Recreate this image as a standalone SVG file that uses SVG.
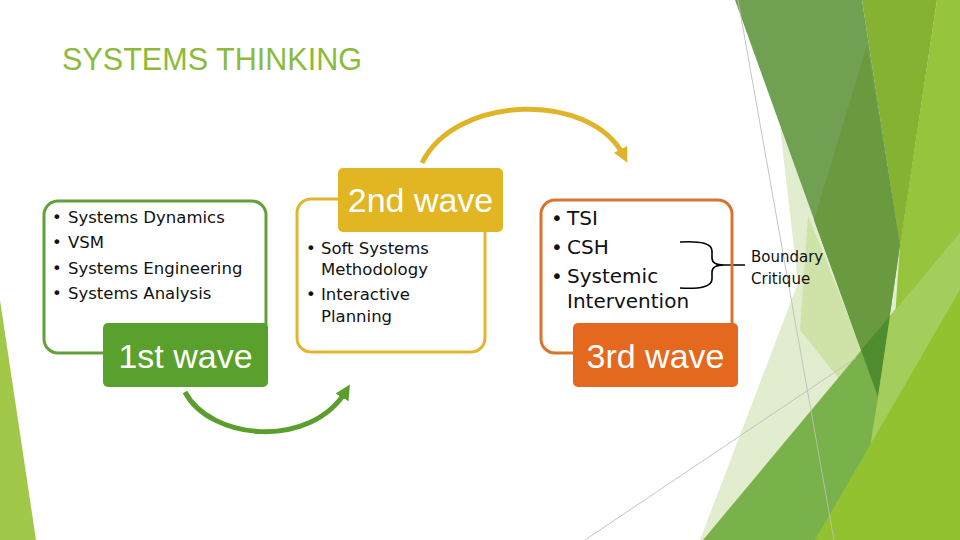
<svg xmlns="http://www.w3.org/2000/svg" width="960" height="540" viewBox="0 0 960 540">
<defs>
<style>
.body{font-family:"DejaVu Sans","Liberation Sans",sans-serif;fill:#111;}
.lbl{font-family:"Liberation Sans","DejaVu Sans",sans-serif;fill:#fff;font-size:34px;}
.box{fill:none;stroke-width:3;}
.arc{fill:none;stroke-width:5;stroke-linecap:butt;}
.thin{stroke:#bdbdbd;stroke-width:0.9;fill:none;}
</style>
<marker id="ahY" viewBox="0 0 10 10" refX="5" refY="5" markerWidth="3" markerHeight="3" orient="auto" markerUnits="strokeWidth"><path d="M0,0 L10,5 L0,10 z" fill="#e0b428"/></marker>
<marker id="ahG" viewBox="0 0 10 10" refX="5" refY="5" markerWidth="3" markerHeight="3" orient="auto" markerUnits="strokeWidth"><path d="M0,0 L10,5 L0,10 z" fill="#5a9e2c"/></marker>
</defs>
<rect width="960" height="540" fill="#ffffff"/>
<g id="background">
<polygon points="0,300 36,540 0,540" fill="#a2c84a"/>
<polygon points="937,0 960,0 960,540 860,540 900,245" fill="#96c43c"/>
<polygon points="862,0 937,0 900,247" fill="#86b232"/>
<polygon points="780,127 798,283 700,540 880,540 900,245" fill="#e2edcf"/>
<polygon points="808,215 862,350 840,380 800,330" fill="#cfe3a9"/>
<polygon points="735,0 862,0 900,245 878,397" fill="#70a052"/>
<polygon points="867,45 900,245 878,397 814,220" fill="#699a40"/>
<polygon points="703,540 960,232 960,540" fill="#79b14b"/>
<polygon points="861,350 890,316 878,397" fill="#4f8b2f"/>
<polygon points="890,316 960,232 960,290 870,447 878,397" fill="#a3ce5c"/>
<polygon points="815,540 960,290 960,540" fill="#93c231"/>
<line class="thin" x1="738" y1="0" x2="834" y2="540"/>
<line class="thin" x1="585" y1="540" x2="856" y2="358"/>
</g>
<g id="title">
<text x="62" y="70" font-family="Liberation Sans, sans-serif" font-size="32" fill="#8cbb3c" textLength="300" lengthAdjust="spacingAndGlyphs">SYSTEMS THINKING</text>
</g>
<g id="connectors">
<path class="arc" d="M422,163 C455,95 590,90 624,156" stroke="#e0b428" marker-end="url(#ahY)"/>
<path class="arc" d="M185,392 C210,440 310,450 346,391" stroke="#5a9e2c" marker-end="url(#ahG)"/>
<path d="M680,242 Q712,240 712,251 L712,258 Q712,265 724,265 L745,265 M680,288 Q712,290 712,279 L712,272 Q712,265 724,265" fill="none" stroke="#000" stroke-width="1.6"/>
</g>
<g id="node-wave1">
<rect class="box" x="44" y="201" width="222" height="152" rx="14" stroke="#63a03a"/>
<g class="body" font-size="16.5">
<text x="52" y="223">•</text><text x="68" y="223">Systems Dynamics</text>
<text x="52" y="248">•</text><text x="68" y="248">VSM</text>
<text x="52" y="274">•</text><text x="68" y="274">Systems Engineering</text>
<text x="52" y="299">•</text><text x="68" y="299">Systems Analysis</text>
</g>
<rect x="103" y="323" width="165" height="64" rx="5" fill="#5aa02c"/>
<text class="lbl" x="185.5" y="368" text-anchor="middle">1st wave</text>
</g>
<g id="node-wave2">
<rect class="box" x="297" y="199" width="188" height="153" rx="14" stroke="#e1b62e"/>
<g class="body" font-size="16.5">
<text x="306" y="254">•</text><text x="321" y="254">Soft Systems</text>
<text x="321" y="275">Methodology</text>
<text x="306" y="300">•</text><text x="321" y="300">Interactive</text>
<text x="321" y="322">Planning</text>
</g>
<rect x="338" y="168" width="165" height="64" rx="5" fill="#e2b523"/>
<text class="lbl" x="420.5" y="212" text-anchor="middle" font-size="35">2nd wave</text>
</g>
<g id="node-wave3">
<rect class="box" x="541" y="200" width="191" height="153" rx="14" stroke="#d9742f"/>
<g class="body" font-size="20">
<text x="551" y="225">•</text><text x="567" y="225">TSI</text>
<text x="551" y="254">•</text><text x="567" y="254">CSH</text>
<text x="551" y="283">•</text><text x="567" y="283">Systemic</text>
<text x="567" y="308">Intervention</text>
</g>
<rect x="573" y="323" width="165" height="64" rx="5" fill="#e4681e"/>
<text class="lbl" x="655.5" y="368" text-anchor="middle">3rd wave</text>
</g>
<g id="node-boundary">
<text class="body" font-size="15" x="751" y="262">Boundary</text>
<text class="body" font-size="15" x="751" y="284">Critique</text>
</g>
</svg>
